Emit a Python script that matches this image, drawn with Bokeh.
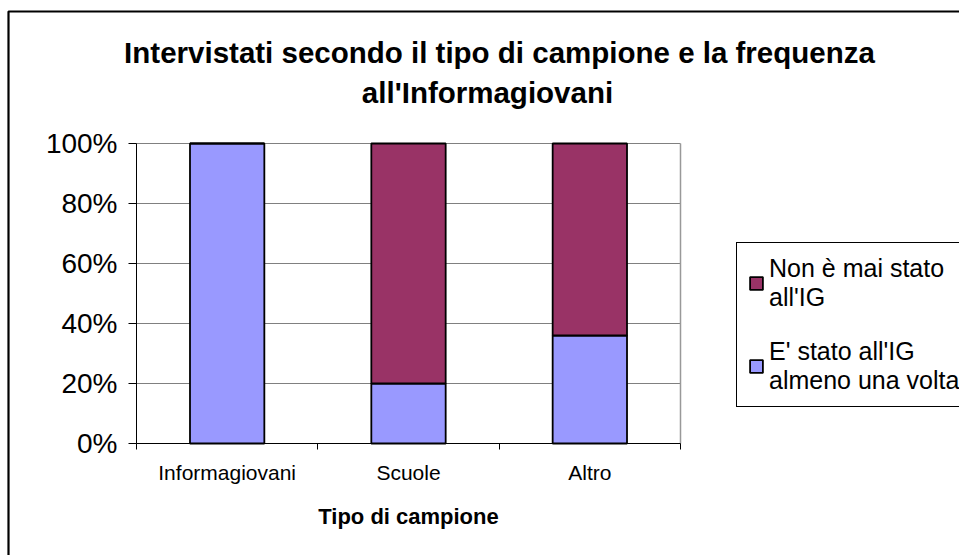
from bokeh.plotting import figure
from bokeh.models import (ColumnDataSource, Range1d, FixedTicker, NumeralTickFormatter,
                          Legend, LegendItem, Label, BoxAnnotation)
from bokeh.embed import file_html
from bokeh.resources import INLINE

# ---- data ----
categories = ["Informagiovani", "Scuole", "Altro"]
visited = [1.00, 0.20, 0.36]      # E' stato all'IG almeno una volta
never = [0.00, 0.80, 0.64]        # Non è mai stato all'IG
series_labels = ["E' stato all'IG\nalmeno una volta", "Non è mai stato\nall'IG"]
series_colors = ["#9999FF", "#993366"]
y_ticks = [0.0, 0.2, 0.4, 0.6, 0.8, 1.0]
title_lines = ["Intervistati secondo il tipo di campione e la frequenza", "all'Informagiovani"]
x_axis_title = "Tipo di campione"

# ---- layout (pixels) ----
FONT = "Liberation Sans"
W, H = 959, 555
PA_L, PA_R, PA_T, PA_B = 136, 680, 143, 443   # plot area on the canvas
n = len(categories)
ux = (PA_R - PA_L) / n
uy = (PA_B - PA_T) / max(y_ticks)

p = figure(width=W, height=H, output_backend="svg", toolbar_location=None, title=None,
           x_range=Range1d(-PA_L / ux, (W - PA_L) / ux),
           y_range=Range1d(-(H - PA_B) / uy, PA_B / uy),
           min_border=0)
p.background_fill_color = "white"
p.border_fill_color = "white"
p.outline_line_color = None
p.grid.visible = False

# gridlines and right edge of the plot area
grid_y = [t for t in y_ticks if t > 0]
p.segment(x0=[0] * len(grid_y), x1=[n] * len(grid_y), y0=grid_y, y1=grid_y,
          line_color="#808080", line_width=1)
p.segment(x0=[n], x1=[n], y0=[0], y1=[max(y_ticks)], line_color="#999999", line_width=1.5)

x_pos = [i + 0.5 for i in range(n)]
src = ColumnDataSource(dict(x=x_pos, visited=visited, never=never))
rs = p.vbar_stack(["visited", "never"], x="x", width=0.41, source=src,
                  fill_color=series_colors, line_color="black", line_width=1.8)

# ---- axes ----
xa = p.xaxis[0]
xa.fixed_location = 0
xa.bounds = (0, n)
xa.ticker = FixedTicker(ticks=x_pos, minor_ticks=list(range(n + 1)))
xa.major_label_overrides = {x: c for x, c in zip(x_pos, categories)}
xa.major_tick_line_color = None
xa.major_tick_out = 0
xa.major_tick_in = 0
xa.minor_tick_out = 6
xa.minor_tick_in = 0
xa.minor_tick_line_color = "black"
xa.axis_line_color = "black"
xa.major_label_text_font = FONT
xa.major_label_text_font_size = "21px"
xa.major_label_text_color = "black"
xa.major_label_standoff = 11
xa.axis_label = x_axis_title
xa.axis_label_text_font = FONT
xa.axis_label_text_font_size = "22px"
xa.axis_label_text_font_style = "bold"
xa.axis_label_text_color = "black"
xa.axis_label_standoff = 17

ya = p.yaxis[0]
ya.fixed_location = 0
ya.bounds = (0, max(y_ticks))
ya.ticker = FixedTicker(ticks=y_ticks)
ya.formatter = NumeralTickFormatter(format="0%")
ya.major_tick_out = 8
ya.major_tick_in = 0
ya.minor_tick_line_color = None
ya.axis_line_color = "black"
ya.major_tick_line_color = "black"
ya.major_label_text_font = FONT
ya.major_label_text_font_size = "28px"
ya.major_label_text_color = "black"
ya.major_label_standoff = 11

# ---- legend ----
legend = Legend(items=[LegendItem(label=series_labels[1], renderers=[rs[1]]),
                       LegendItem(label=series_labels[0], renderers=[rs[0]])],
                location=(736, H - 407))
legend.border_line_color = "black"
legend.border_line_alpha = 1
legend.border_line_width = 1
legend.background_fill_color = "white"
legend.background_fill_alpha = 1
legend.label_text_font = FONT
legend.label_text_font_size = "25px"
legend.label_text_color = "black"
legend.label_text_line_height = 1.1
legend.glyph_width = 16
legend.glyph_height = 16
legend.label_standoff = 5
legend.padding = 11
legend.spacing = 25
legend.margin = 0
p.add_layout(legend, "center")

# ---- title ----
p.add_layout(Label(x=499, y=H - 52, x_units="screen", y_units="screen", text=title_lines[0],
                   text_align="center", text_baseline="middle", text_font=FONT,
                   text_font_size="29.5px", text_font_style="bold", text_color="black"))
p.add_layout(Label(x=487, y=H - 92, x_units="screen", y_units="screen", text=title_lines[1],
                   text_align="center", text_baseline="middle", text_font=FONT,
                   text_font_size="29.5px", text_font_style="bold", text_color="black"))

# ---- outer chart border (runs off the right and bottom edges) ----
p.add_layout(BoxAnnotation(left=8, right=W + 20, top=H - 11, bottom=-20,
                           left_units="screen", right_units="screen",
                           top_units="screen", bottom_units="screen",
                           fill_color=None, fill_alpha=0,
                           line_color="black", line_alpha=1, line_width=2.2))

open("out.html", "w").write(file_html(p, INLINE))
